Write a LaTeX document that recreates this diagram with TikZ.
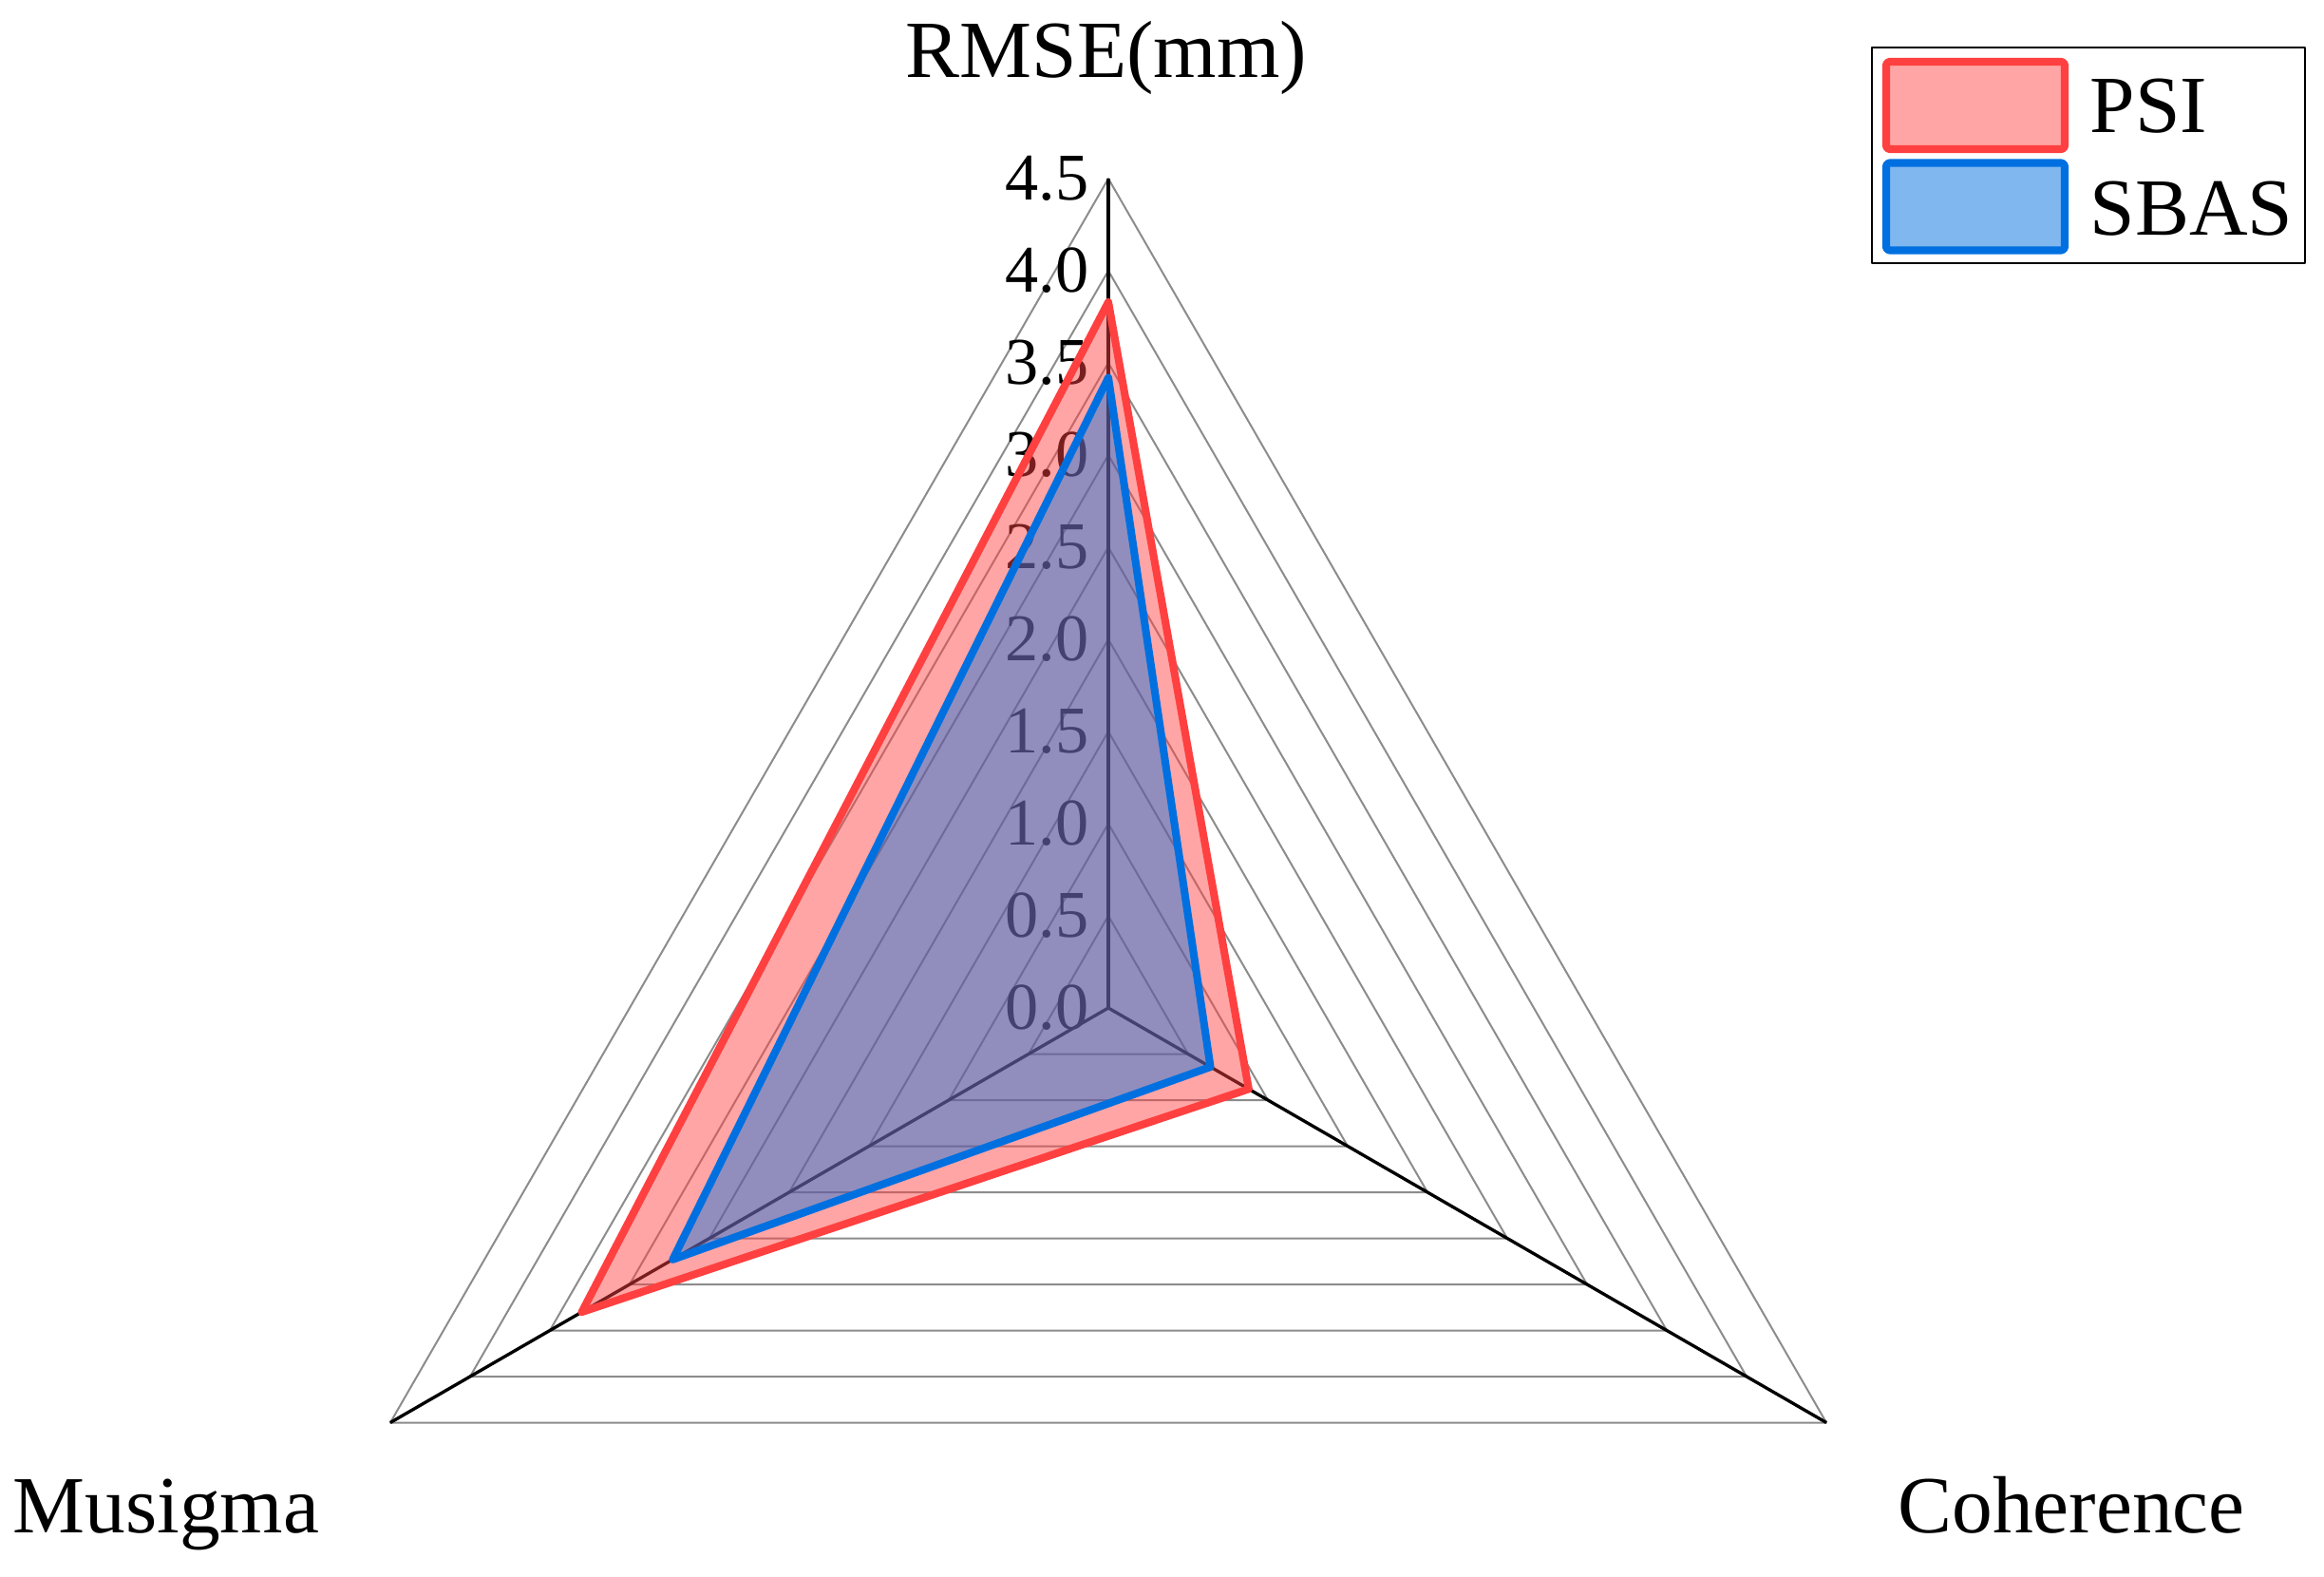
\documentclass[tikz,border=0pt]{standalone}
\usepackage{fontspec}
\setmainfont{Liberation Serif}
\usepackage{tikz}
\definecolor{psired}{RGB}{255,64,64}
\definecolor{sbasblue}{RGB}{0,112,224}

\begin{document}
\begin{tikzpicture}[line join=round,
                grid/.style={black!45, line width=0.57pt},
                spoke/.style={black, line width=0.95pt},
                tick/.style={font=\fontsize{20}{24}\selectfont, anchor=east, inner sep=0pt},
                axlabel/.style={font=\fontsize{24.3}{29}\selectfont, anchor=base, inner sep=0pt},
                series/.style={line width=2.3pt},
                swatch/.style={line width=2.3pt, rounded corners=1pt, inner sep=0pt,
                               minimum width=1.88cm, minimum height=0.92cm}]
                \def\S{1.94} % cm per unit on the radial scale
                \def\R{8.73} % outer radius (4.5)
                \useasboundingbox (-11.67,-5.98) rectangle (12.80,10.61);

                % grid triangles
                \foreach \k [evaluate={\r=\k*0.5*\S;}] in {1,...,9}{
                    \draw[grid] (90:\r) -- (210:\r) -- (330:\r) -- cycle;
                }

                % spokes
                \coordinate (O) at (0,0);
                \foreach \ang/\nm in {90/rmse, 210/musigma, 330/coh}{
                    \coordinate (\nm) at (\ang:\R);
                    \draw[spoke] (O) -- (\nm);
                }

                % radial tick labels (under the fills)
                \foreach \k/\lab [evaluate={\y=\k*0.5*\S;}] in
                    {0/0.0, 1/0.5, 2/1.0, 3/1.5, 4/2.0, 5/2.5, 6/3.0, 7/3.5, 8/4.0, 9/4.5}{
                    \node[tick] (t\k) at (-0.2,\y) {\lab};
                }

                % data polygons: RMSE / Coherence / Musigma
                \foreach \nm/\col/\op/\a/\b/\c in {psi/psired/0.47/3.83/0.88/3.30, sbas/sbasblue/0.43/3.42/0.64/2.73}{
                    \draw[series, draw=\col, fill=\col, fill opacity=\op]
                        (90:{\a*\S}) coordinate (\nm-rmse) -- (330:{\b*\S}) coordinate (\nm-coh)
                        -- (210:{\c*\S}) coordinate (\nm-mus) -- cycle;
                }

                % axis names
                \node[axlabel] (rmseLbl) at (-0.02,9.79) {RMSE(mm)};
                \node[axlabel] (musLbl) at (-9.92,-5.52) {Musigma};
                \node[axlabel] (cohLbl) at (10.14,-5.52) {Coherence};

                % legend
                \draw[black, line width=0.7pt] (8.04,10.11) rectangle (12.60,7.84);
                \node[swatch, draw=psired, fill=psired!47] (psiBox) at (9.13,9.50) {};
                \node[swatch, draw=sbasblue, fill=sbasblue!50] (sbasBox) at (9.13,8.435) {};
                \node[axlabel, anchor=base west] (psiTxt) at (10.33,9.21) {PSI};
                \node[axlabel, anchor=base west] (sbasTxt) at (10.33,8.14) {SBAS};

\end{tikzpicture}
\end{document}
